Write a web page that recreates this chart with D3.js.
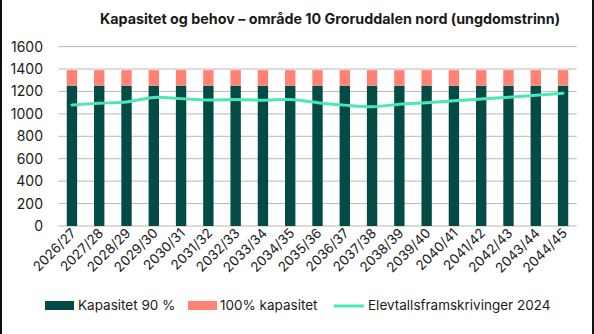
<!DOCTYPE html>
<html><head><meta charset="utf-8">
<script src="https://cdn.jsdelivr.net/npm/d3@7"></script>
<style>body{margin:0;background:#fff}svg{display:block;font-family:"Inter","Noto Sans",sans-serif}</style>
</head><body>
<script>
const categories = ["2026/27","2027/28","2028/29","2029/30","2030/31","2031/32","2032/33","2033/34","2034/35","2035/36","2036/37","2037/38","2038/39","2039/40","2040/41","2041/42","2042/43","2043/44","2044/45"];
const kapasitet90 = [1251,1251,1251,1251,1251,1251,1251,1251,1251,1251,1251,1251,1251,1251,1251,1251,1251,1251,1251];
const kapasitet100Extra = [139,139,139,139,139,139,139,139,139,139,139,139,139,139,139,139,139,139,139];
const elevtall2024 = [1080,1095,1106,1147,1136,1124,1128,1122,1128,1100,1078,1064,1085,1100,1116,1133,1148,1166,1184];
const yTicks = [0,200,400,600,800,1000,1200,1400,1600];
const title = "Kapasitet og behov – område 10 Groruddalen nord (ungdomstrinn)";
const legendItems = ["Kapasitet 90 %","100% kapasitet","Elevtallsframskrivinger 2024"];

const W=594,H=334;
const cDark="#034b45", cPink="#ff8274", cLine="#4be8b4";
const svg=d3.select("body").append("svg").attr("width",W).attr("height",H);
svg.append("rect").attr("width",W).attr("height",H).attr("fill","#fff");
svg.append("line").attr("x1",1).attr("x2",1).attr("y1",0).attr("y2",H).attr("stroke","#111").attr("stroke-width",2);
svg.append("line").attr("x1",593).attr("x2",593).attr("y1",0).attr("y2",H).attr("stroke","#111").attr("stroke-width",2);

const x=d3.scaleBand().domain(categories).range([58.3,576.7]).paddingInner(0.62).paddingOuter(0.31);
const y=d3.scaleLinear().domain([0,1600]).range([226,46.6]);

svg.append("text").attr("x",330).attr("y",24).attr("text-anchor","middle")
  .attr("font-size",14.3).attr("font-weight","bold").attr("fill","#1a1a1a").text(title);

// grid
svg.append("g").selectAll("line").data(yTicks).join("line")
  .attr("x1",58.3).attr("x2",576.7).attr("y1",d=>y(d)).attr("y2",d=>y(d))
  .attr("stroke","#b8b8b8").attr("stroke-width",1);
svg.append("g").selectAll("text").data(yTicks).join("text")
  .attr("x",43).attr("y",d=>y(d)).attr("dy","0.36em").attr("text-anchor","end")
  .attr("font-size",14).attr("fill","#1a1a1a").text(d=>d);

// bars
const bw=x.bandwidth();
svg.append("g").selectAll("rect").data(categories).join("rect")
  .attr("x",d=>x(d)).attr("width",bw)
  .attr("y",(d,i)=>y(kapasitet90[i])).attr("height",(d,i)=>y(0)-y(kapasitet90[i]))
  .attr("fill",cDark);
svg.append("g").selectAll("rect").data(categories).join("rect")
  .attr("x",d=>x(d)).attr("width",bw)
  .attr("y",(d,i)=>y(kapasitet90[i]+kapasitet100Extra[i])).attr("height",(d,i)=>y(kapasitet90[i])-y(kapasitet90[i]+kapasitet100Extra[i]))
  .attr("fill",cPink);

// line
const line=d3.line().x((d,i)=>x(categories[i])+bw/2).y(d=>y(d)).curve(d3.curveCatmullRom.alpha(0.5));
svg.append("path").datum(elevtall2024).attr("d",line).attr("fill","none")
  .attr("stroke",cLine).attr("stroke-width",3).attr("stroke-linecap","round");

// x labels
svg.append("g").selectAll("text").data(categories).join("text")
  .attr("transform",d=>`translate(${x(d)+bw/2+5},${234}) rotate(-45)`)
  .attr("text-anchor","end").attr("font-size",13.5).attr("fill","#1a1a1a").text(d=>d);

// legend
const ly=305;
const lg=svg.append("g");
lg.append("rect").attr("x",45).attr("y",ly-4).attr("width",29).attr("height",9).attr("fill",cDark);
lg.append("text").attr("x",78).attr("y",ly).attr("dy","0.36em").attr("font-size",13.5).attr("fill","#1a1a1a").text(legendItems[0]);
lg.append("rect").attr("x",188).attr("y",ly-4).attr("width",29).attr("height",9).attr("fill",cPink);
lg.append("text").attr("x",220).attr("y",ly).attr("dy","0.36em").attr("font-size",13.5).attr("fill","#1a1a1a").text(legendItems[1]);
lg.append("line").attr("x1",334).attr("x2",364).attr("y1",ly+1).attr("y2",ly+1).attr("stroke",cLine).attr("stroke-width",3);
lg.append("text").attr("x",368).attr("y",ly).attr("dy","0.36em").attr("font-size",13.5).attr("fill","#1a1a1a").text(legendItems[2]);
</script>
</body></html>
